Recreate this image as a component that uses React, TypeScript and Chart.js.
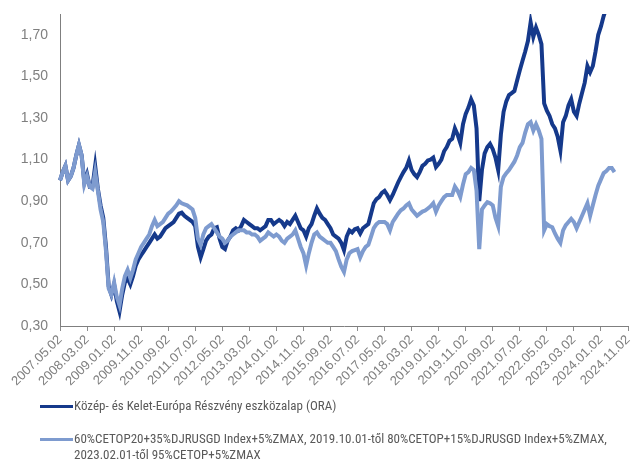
import { useEffect, useRef } from "react";
import { Chart, registerables } from "chart.js";

Chart.register(...registerables);

// Monthly categories from 2007.05.02 to 2024.11.02
const firstYear = 2007;
const firstMonth = 5;
const monthCount = 211;
const categories: string[] = [];
for (let i = 0; i < monthCount; i++) {
  const t = firstMonth - 1 + i;
  const y = firstYear + Math.floor(t / 12);
  const m = (t % 12) + 1;
  categories.push(`${y}.${String(m).padStart(2, "0")}.02`);
}

const tickLabels = [
  "2007.05.02", "2008.03.02", "2009.01.02", "2009.11.02", "2010.09.02", "2011.07.02",
  "2012.05.02", "2013.03.02", "2014.01.02", "2014.11.02", "2015.09.02", "2016.07.02",
  "2017.05.02", "2018.03.02", "2019.01.02", "2019.11.02", "2020.09.02", "2021.07.02",
  "2022.05.02", "2023.03.02", "2024.01.02", "2024.11.02",
];

const yTicks = [0.3, 0.5, 0.7, 0.9, 1.1, 1.3, 1.5, 1.7];

const fundName = "Közép- és Kelet-Európa Részvény eszközalap (ORA)";
const benchName1 = "60%CETOP20+35%DJRUSGD Index+5%ZMAX, 2019.10.01-től 80%CETOP+15%DJRUSGD Index+5%ZMAX,";
const benchName2 = "2023.02.01-től 95%CETOP+5%ZMAX";

const fund = [
  1.00, 1.04, 1.07, 1.00, 1.02, 1.06, 1.12, 1.17, 1.12, 0.99,
  1.03, 0.97, 0.97, 1.07, 0.96, 0.88, 0.82, 0.68, 0.49, 0.45,
  0.50, 0.42, 0.37, 0.45, 0.51, 0.53, 0.50, 0.54, 0.59, 0.62,
  0.64, 0.66, 0.68, 0.70, 0.72, 0.74, 0.72, 0.73, 0.75, 0.77,
  0.78, 0.79, 0.80, 0.82, 0.84, 0.845, 0.83, 0.82, 0.81, 0.80,
  0.78, 0.68, 0.63, 0.67, 0.71, 0.73, 0.74, 0.77, 0.775, 0.72,
  0.68, 0.67, 0.71, 0.73, 0.76, 0.77, 0.76, 0.78, 0.81, 0.80,
  0.79, 0.78, 0.77, 0.77, 0.76, 0.77, 0.78, 0.81, 0.81, 0.79,
  0.80, 0.81, 0.80, 0.78, 0.80, 0.79, 0.81, 0.83, 0.80, 0.77,
  0.76, 0.73, 0.77, 0.79, 0.83, 0.865, 0.84, 0.82, 0.81, 0.79,
  0.77, 0.74, 0.73, 0.72, 0.70, 0.665, 0.73, 0.76, 0.75, 0.765,
  0.77, 0.745, 0.77, 0.78, 0.79, 0.84, 0.89, 0.91, 0.92, 0.94,
  0.95, 0.93, 0.905, 0.93, 0.96, 0.99, 1.016, 1.04, 1.06, 1.096,
  1.05, 1.03, 1.016, 1.04, 1.07, 1.08, 1.096, 1.10, 1.11, 1.064,
  1.08, 1.10, 1.14, 1.16, 1.19, 1.20, 1.25, 1.22, 1.18, 1.27,
  1.32, 1.35, 1.39, 1.36, 1.25, 0.90, 1.05, 1.13, 1.16, 1.176,
  1.15, 1.11, 1.05, 1.22, 1.33, 1.38, 1.41, 1.42, 1.43, 1.48,
  1.53, 1.575, 1.62, 1.67, 1.76, 1.69, 1.735, 1.70, 1.655, 1.37,
  1.335, 1.31, 1.27, 1.25, 1.21, 1.144, 1.28, 1.31, 1.36, 1.39,
  1.33, 1.31, 1.37, 1.42, 1.47, 1.55, 1.52, 1.55, 1.62, 1.70,
  1.74, 1.79, 1.83, 1.86, 1.88, 1.89,
];

const benchmark = [
  1.00, 1.04, 1.07, 1.00, 1.02, 1.06, 1.12, 1.17, 1.12, 0.98,
  1.02, 0.97, 0.96, 1.04, 0.95, 0.86, 0.80, 0.66, 0.48, 0.45,
  0.51, 0.44, 0.40, 0.48, 0.54, 0.57, 0.53, 0.57, 0.62, 0.65,
  0.68, 0.70, 0.72, 0.74, 0.78, 0.81, 0.78, 0.79, 0.80, 0.82,
  0.84, 0.85, 0.865, 0.88, 0.90, 0.89, 0.885, 0.88, 0.87, 0.86,
  0.82, 0.72, 0.69, 0.74, 0.77, 0.78, 0.79, 0.77, 0.75, 0.73,
  0.72, 0.70, 0.71, 0.73, 0.74, 0.75, 0.76, 0.76, 0.76, 0.75,
  0.75, 0.74, 0.74, 0.73, 0.71, 0.72, 0.73, 0.75, 0.74, 0.73,
  0.74, 0.73, 0.71, 0.70, 0.72, 0.73, 0.74, 0.76, 0.72, 0.68,
  0.65, 0.59, 0.65, 0.70, 0.74, 0.75, 0.73, 0.72, 0.71, 0.70,
  0.70, 0.68, 0.66, 0.62, 0.585, 0.56, 0.62, 0.65, 0.66, 0.665,
  0.67, 0.63, 0.66, 0.68, 0.69, 0.73, 0.77, 0.79, 0.80, 0.80,
  0.80, 0.79, 0.76, 0.80, 0.82, 0.84, 0.856, 0.865, 0.88, 0.89,
  0.86, 0.845, 0.83, 0.84, 0.85, 0.855, 0.865, 0.875, 0.89, 0.85,
  0.88, 0.90, 0.92, 0.93, 0.93, 0.93, 0.97, 0.95, 0.92, 0.98,
  1.03, 1.04, 1.06, 1.05, 0.95, 0.67, 0.86, 0.88, 0.895, 0.89,
  0.88, 0.82, 0.78, 0.97, 1.016, 1.035, 1.05, 1.07, 1.09, 1.12,
  1.16, 1.18, 1.23, 1.27, 1.28, 1.24, 1.27, 1.24, 1.20, 0.76,
  0.79, 0.78, 0.775, 0.745, 0.72, 0.70, 0.76, 0.785, 0.80, 0.815,
  0.80, 0.77, 0.80, 0.83, 0.86, 0.89, 0.83, 0.88, 0.93, 0.975,
  1.005, 1.035, 1.045, 1.06, 1.06, 1.04,
];

const darkBlue = "#15398b";
const lightBlue = "#7e9bcf";
const labelGray = "#7f7f7f";
const legendGray = "#595959";

export default function App() {
  const canvasRef = useRef<HTMLCanvasElement | null>(null);

  useEffect(() => {
    if (!canvasRef.current) return;
    const chart = new Chart(canvasRef.current, {
      type: "line",
      data: {
        labels: categories,
        datasets: [
          {
            label: fundName,
            data: fund,
            borderColor: darkBlue,
            backgroundColor: darkBlue,
            borderWidth: 4,
            pointRadius: 0,
            tension: 0,
            order: 1,
          },
          {
            label: benchName1 + " " + benchName2,
            data: benchmark,
            borderColor: lightBlue,
            backgroundColor: lightBlue,
            borderWidth: 4,
            pointRadius: 0,
            tension: 0,
            order: 0,
          },
        ],
      },
      options: {
        responsive: false,
        animation: false,
        layout: { padding: { top: 14, right: 3, bottom: 64, left: 0 } },
        plugins: { legend: { display: false }, tooltip: { enabled: false } },
        scales: {
          x: {
            type: "category",
            grid: { drawOnChartArea: false, drawTicks: true, tickLength: 5, color: "#8c8c8c" },
            border: { display: true, color: "#7f7f7f", width: 1 },
            ticks: {
              autoSkip: false,
              minRotation: 45,
              maxRotation: 45,
              padding: 1,
              color: labelGray,
              font: { family: "'Liberation Sans', Arial, sans-serif", size: 13 },
            },
            afterBuildTicks: (scale: any) => {
              scale.ticks = scale.ticks.filter((t: any) => tickLabels.includes(categories[t.value]));
            },
            afterFit: (scale: any) => {
              scale.height = 70;
              scale.paddingLeft = 0;
              scale.paddingRight = 0;
            },
          },
          y: {
            min: 0.3,
            max: 1.8,
            grid: { display: false, drawTicks: false },
            border: { display: true, color: "#7f7f7f", width: 1 },
            ticks: {
              padding: 12,
              color: labelGray,
              font: { family: "'Liberation Sans', Arial, sans-serif", size: 14 },
              callback: (v: any) => Number(v).toFixed(2).replace(".", ","),
            },
            afterBuildTicks: (scale: any) => {
              scale.ticks = yTicks.map((v) => ({ value: v }));
            },
            afterFit: (scale: any) => {
              scale.width = 60;
              scale.paddingTop = 0;
              scale.paddingBottom = 0;
            },
          },
        },
      },
    });
    return () => chart.destroy();
  }, []);

  const legendFont = "'Liberation Sans Narrow', 'Roboto Condensed', Roboto, sans-serif";

  return (
    <div style={{ position: "absolute", left: 0, top: 0, width: 631, height: 460, background: "#fff", overflow: "hidden" }}>
      <canvas ref={canvasRef} width={631} height={460} style={{ width: 631, height: 460, display: "block" }} />
      <div style={{ position: "absolute", left: 40, top: 405, width: 33, height: 3, background: darkBlue }} />
      <div
        style={{
          position: "absolute", left: 74, top: 398, fontFamily: legendFont, fontSize: 13,
          lineHeight: "16px", color: legendGray, whiteSpace: "nowrap",
        }}
      >
        {fundName}
      </div>
      <div style={{ position: "absolute", left: 40, top: 438, width: 33, height: 3, background: lightBlue }} />
      <div
        style={{
          position: "absolute", left: 74, top: 431, fontFamily: legendFont, fontSize: 13,
          lineHeight: "16px", color: legendGray, whiteSpace: "nowrap",
        }}
      >
        {benchName1}
        <br />
        {benchName2}
      </div>
    </div>
  );
}
